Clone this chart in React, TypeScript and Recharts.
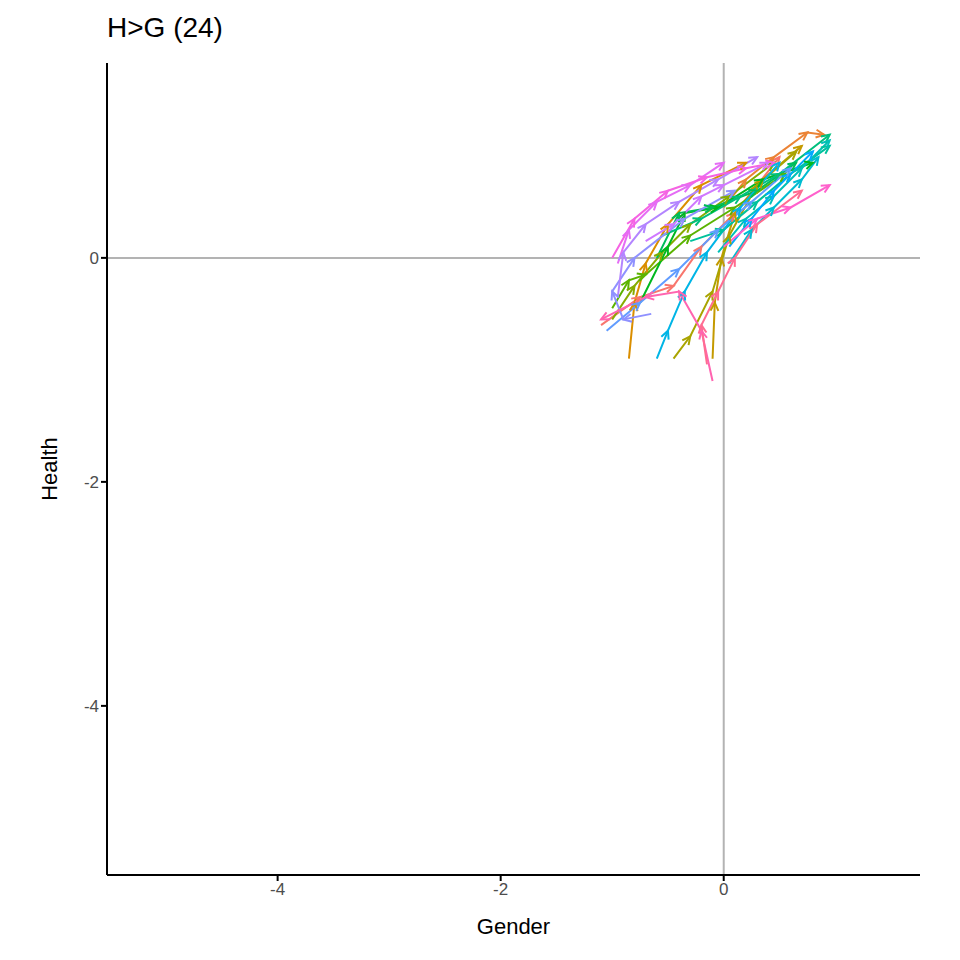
import { LineChart, Line, XAxis, YAxis, ReferenceLine } from "recharts";

const colors = [
  "#F8766D", "#EB8335", "#DA8E00", "#C49A00", "#A9A400", "#87AC00",
  "#5BB300", "#00B81F", "#00BC59", "#00BF7D", "#00C19C", "#00C0B8",
  "#00BCD1", "#00B5E6", "#00A9FF", "#619CFF", "#8F91FF", "#B385FF",
  "#CF78FF", "#E56DF5", "#F564E3", "#FF61CC", "#FF64B0", "#FF6C91",
];

// trajectories (Gender, Health), one per respondent group
const t01 = [[-1.1, -0.6], [-0.75, -0.35], [-0.45, -0.25], [-0.2, 0.1], [0.1, 0.4], [0.5, 0.9]];
const t02 = [[0.0, 0.45], [0.2, 0.7], [0.45, 0.9], [0.75, 1.12], [0.9, 1.1]];
const t03 = [[-0.85, -0.9], [-0.8, -0.4], [-0.7, -0.05], [-0.5, 0.3], [-0.2, 0.65], [0.2, 0.85]];
const t04 = [[-0.1, -0.9], [-0.08, -0.4], [-0.02, 0.0], [0.1, 0.4], [0.35, 0.7], [0.7, 1.0]];
const t05 = [[-0.45, -0.9], [-0.3, -0.7], [-0.1, -0.3], [0.05, 0.2], [0.3, 0.65], [0.65, 0.95]];
const t06 = [[-1.0, -0.55], [-0.8, -0.25], [-0.55, 0.05], [-0.3, 0.3], [0.05, 0.55], [0.45, 0.85]];
const t07 = [[-1.0, -0.45], [-0.85, -0.2], [-0.7, -0.15], [-0.3, 0.2], [0.1, 0.45], [0.55, 0.75]];
const t08 = [[-0.75, -0.4], [-0.5, 0.1], [-0.35, 0.4], [-0.05, 0.45], [0.35, 0.7], [0.8, 0.85]];
const t09 = [[-0.6, 0.0], [-0.4, 0.4], [-0.1, 0.45], [0.3, 0.6], [0.65, 0.85]];
const t10 = [[-0.55, 0.2], [-0.2, 0.35], [0.15, 0.55], [0.5, 0.75], [0.95, 1.1]];
const t11 = [[-0.3, 0.15], [0.0, 0.25], [0.3, 0.5], [0.6, 0.75], [0.95, 1.0]];
const t12 = [[-0.05, 0.05], [0.2, 0.35], [0.45, 0.55], [0.7, 0.8], [0.95, 1.05]];
const t13 = [[0.05, -0.05], [0.25, 0.25], [0.45, 0.45], [0.7, 0.7], [0.85, 0.9]];
const t14 = [[-0.6, -0.9], [-0.5, -0.65], [-0.35, -0.3], [-0.15, 0.05], [0.15, 0.45], [0.5, 0.85]];
const t15 = [[0.05, 0.1], [0.25, 0.35], [0.45, 0.6], [0.6, 0.75], [0.8, 0.95]];
const t16 = [[-1.05, -0.65], [-0.75, -0.4], [-0.4, -0.1], [-0.05, 0.25], [0.25, 0.5], [0.6, 0.8]];
const t17 = [[-0.65, -0.5], [-0.9, -0.55], [-1.0, -0.3], [-0.8, 0.0], [-0.35, 0.35], [0.1, 0.6]];
const t18 = [[-0.95, -0.35], [-0.9, 0.05], [-0.7, 0.3], [-0.4, 0.5], [-0.05, 0.7], [0.3, 0.9]];
const t19 = [[-0.7, 0.15], [-0.45, 0.3], [-0.2, 0.55], [0.0, 0.65], [0.4, 0.85]];
const t20 = [[-0.95, -0.05], [-0.85, 0.25], [-0.6, 0.5], [-0.3, 0.65], [0.0, 0.85]];
const t21 = [[-1.0, 0.0], [-0.8, 0.35], [-0.5, 0.6], [-0.15, 0.72], [0.2, 0.8], [0.45, 0.85]];
const t22 = [[0.0, 0.1], [0.3, 0.35], [0.6, 0.45], [0.95, 0.65]];
const t23 = [[-0.1, -1.1], [-0.2, -0.65], [-0.4, -0.3], [-0.7, -0.35], [-1.1, -0.55]];
const t24 = [[-0.15, -0.95], [-0.2, -0.6], [-0.05, -0.3], [0.1, 0.0], [0.3, 0.3], [0.7, 0.6]];

const trajectories = [t01, t02, t03, t04, t05, t06, t07, t08, t09, t10, t11, t12,
  t13, t14, t15, t16, t17, t18, t19, t20, t21, t22, t23, t24];

const xTicks = [-4, -2, 0];
const yTicks = [0, -2, -4];

const XD = [-5.53, 1.76];
const YD = [-5.51, 1.74];
const PW = 813;
const PH = 812;

const arrowDot = (pts: number[][], color: string) => (props: any) => {
  const { cx, cy, index } = props;
  if (index === 0 || cx == null) return <g key={index} />;
  const dx = ((pts[index][0] - pts[index - 1][0]) * PW) / (XD[1] - XD[0]);
  const dy = (-(pts[index][1] - pts[index - 1][1]) * PH) / (YD[1] - YD[0]);
  const a = Math.atan2(dy, dx);
  const L = 9;
  const s = 0.45;
  const p1 = [cx - L * Math.cos(a - s), cy - L * Math.sin(a - s)];
  const p2 = [cx - L * Math.cos(a + s), cy - L * Math.sin(a + s)];
  return (
    <path
      key={index}
      d={`M${p1[0]},${p1[1]}L${cx},${cy}L${p2[0]},${p2[1]}`}
      stroke={color}
      strokeWidth={2}
      fill="none"
    />
  );
};

export default function App() {
  return (
    <div style={{ position: "relative", width: 960, height: 960, fontFamily: "Liberation Sans, Arial, sans-serif" }}>
      <style>{"body{margin:0}"}</style>
      <div style={{ position: "absolute", left: 107, top: 12, fontSize: 28, color: "#000" }}>H&gt;G (24)</div>
      <div style={{ position: "absolute", left: 0, width: 960 + 107 - 40, top: 914, textAlign: "center", fontSize: 22 }}>
        Gender
      </div>
      <div
        style={{
          position: "absolute",
          left: 50,
          top: 469,
          fontSize: 22,
          transform: "translate(-50%,-50%) rotate(-90deg)",
        }}
      >
        Health
      </div>
      <LineChart width={960} height={960} margin={{ left: 57, top: 63, right: 40, bottom: 45 }}>
        <XAxis
          type="number"
          dataKey="0"
          domain={XD}
          ticks={xTicks}
          allowDataOverflow
          stroke="#000"
          strokeWidth={2}
          tick={{ fill: "#4d4d4d", fontSize: 17 }}
          tickSize={6}
          height={40}
        />
        <YAxis
          type="number"
          dataKey="1"
          domain={YD}
          ticks={yTicks}
          allowDataOverflow
          stroke="#000"
          strokeWidth={2}
          tick={{ fill: "#4d4d4d", fontSize: 17 }}
          tickSize={6}
          width={50}
        />
        <ReferenceLine x={0} stroke="#b3b3b3" strokeWidth={2} />
        <ReferenceLine y={0} stroke="#b3b3b3" strokeWidth={2} />
        {trajectories.map((pts, i) => (
          <Line
            key={i}
            data={pts}
            dataKey="1"
            type="linear"
            stroke={colors[i]}
            strokeWidth={2}
            dot={arrowDot(pts, colors[i])}
            activeDot={false}
            isAnimationActive={false}
          />
        ))}
      </LineChart>
    </div>
  );
}
